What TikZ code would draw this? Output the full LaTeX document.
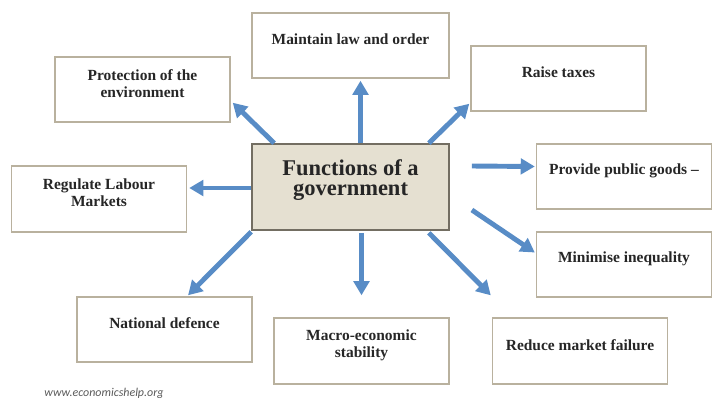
\documentclass[tikz,border=0pt]{standalone}
\usepackage{fontspec}
\setmainfont{Liberation Serif}
\newfontfamily\webfont{Carlito}
\usetikzlibrary{arrows.meta}

\definecolor{arrblue}{RGB}{88,140,198}
\definecolor{boxline}{RGB}{185,177,158}
\definecolor{ctrline}{RGB}{115,110,98}
\definecolor{ctrfill}{RGB}{229,224,209}
\definecolor{webgray}{RGB}{90,90,90}

\tikzset{
  fbox/.style={draw=boxline, fill=white, line width=1pt, minimum width=4.375cm, minimum height=1.625cm, inner sep=0pt},
  ftext/.style={font=\bfseries\fontsize{11}{12}\selectfont, align=center, text=black!85, yshift=0.15cm},
  arr/.style={draw=arrblue, line width=3.5pt, -{Triangle[length=10pt,width=11pt]}}
}

\begin{document}
\begin{tikzpicture}[x=0.025cm, y=-0.025cm]
\useasboundingbox (0,0) rectangle (720,403);

% centre box
\node (ctr) [draw=ctrline, fill=ctrfill, line width=1.2pt, minimum width=4.925cm, minimum height=2.15cm, inner sep=0pt,
  label={[name=ctrT, font=\bfseries\fontsize{16}{14.5}\selectfont, align=center, text=black!85, yshift=0.17cm]center:Functions of a\\government}] at (350.5,187) {};

% boxes round it
\node (law) [fbox, minimum width=4.925cm, label={[name=lawT, ftext]center:Maintain law and order}] at (350.5,45.5) {};
\node (prot) [fbox, label={[name=protT, ftext]center:Protection of  the\\environment}] at (142.5,89.5) {};
\node (tax) [fbox, label={[name=taxT, ftext]center:Raise taxes}] at (558.5,78.5) {};
\node (goods) [fbox, label={[name=goodsT, ftext]center:Provide public goods --}] at (624,176.5) {};
\node (labour) [fbox, minimum height=1.65cm, label={[name=labourT, ftext]center:Regulate Labour\\Markets}] at (99,199) {};
\node (ineq) [fbox, label={[name=ineqT, ftext]center:Minimise inequality}] at (624,264.5) {};
\node (def) [fbox, label={[name=defT, ftext]center:National defence}] at (164.5,329.5) {};
\node (macro) [fbox, minimum height=1.65cm, label={[name=macroT, ftext]center:Macro-economic\\stability}] at (361.5,351) {};
\node (market) [fbox, minimum height=1.65cm, label={[name=marketT, ftext]center:Reduce market failure}] at (580,351) {};

\node (web) [font=\webfont\itshape\fontsize{8.5}{10}\selectfont, text=webgray] at (104,393) {www.economicshelp.org};

% arrows
\draw [arr] ([shift={(23,0)}]ctr.north west) -- ([shift={(2,-20)}]prot.south east);
\draw [arr] ([shift={(10,0)}]ctr.north) -- ([shift={(10,2)}]law.south);
\draw [arr] ([shift={(-21,0)}]ctr.north east) -- ([shift={(-1,-8)}]tax.south west);
\draw [arr] ([shift={(22,-21)}]ctr.east) -- ([shift={(-1,-10)}]goods.west);
\draw [arr] ([shift={(22,23)}]ctr.east) -- ([shift={(-1,-12)}]ineq.west);
\draw [arr] ([shift={(-21,2)}]ctr.south east) -- ([shift={(-1,-22)}]market.north west);
\draw [arr] ([shift={(11,2)}]ctr.south) -- ([shift={(0,-22)}]macro.north);
\draw [arr] ([shift={(0,1)}]ctr.south west) -- ([shift={(23.5,-1)}]def.north);
\draw [arr] ([shift={(0,1)}]ctr.west) -- ([shift={(2,-11)}]labour.east);

\end{tikzpicture}
\end{document}
